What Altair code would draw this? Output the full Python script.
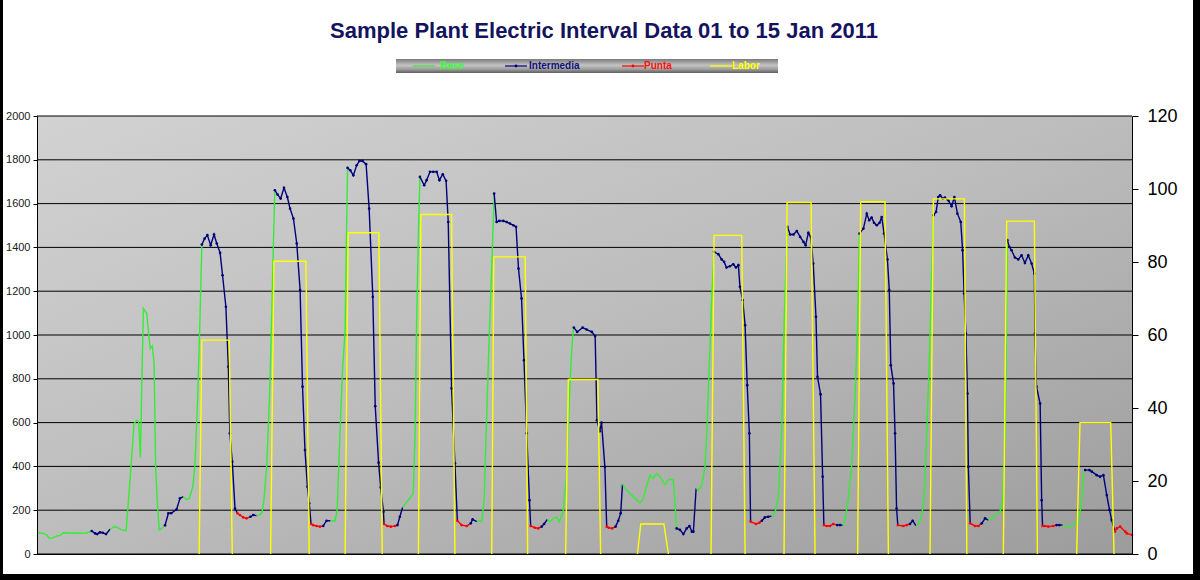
import altair as alt
import pandas as pd

# ---------------- data ----------------
# load curve: hour index and kW
load_hour = [0.0, 2.1, 3.2, 4.1, 5.4, 6.5, 7.6, 8.7, 13.0, 16.3, 18.0, 19.1, 19.8, 20.7, 21.6, 22.7,
             24.0, 25.6, 26.7, 27.8, 29.3, 30.0, 30.9, 31.9, 32.8, 33.4, 34.0, 34.4, 35.0, 36.1, 36.7,
             37.2, 37.9, 38.5, 39.0, 39.7, 40.2, 41.5, 42.1, 43.2, 44.1, 45.9, 47.0, 48.1, 49.0, 50.1,
             51.2, 51.9, 52.8, 53.6, 54.2, 55.1, 56.0, 57.1, 58.2, 59.1, 60.2, 61.0, 62.1, 62.9, 63.4,
             64.2, 65.1, 65.9, 66.7, 67.8, 68.9, 70.2, 71.1, 72.2, 73.1, 74.0, 74.6, 75.5, 76.4, 77.2,
             77.7, 78.2, 79.1, 80.1, 81.2, 82.3, 83.2, 84.3, 85.4, 86.5, 87.3, 88.1, 88.9, 89.5, 90.1,
             90.8, 91.9, 93.0, 94.1, 95.2, 96.5, 98.0, 98.7, 99.6, 100.5, 101.3, 101.8, 102.1, 103.0,
             104.0, 105.1, 106.0, 107.0, 108.2, 109.2, 110.4, 111.2, 112.3, 113.0, 113.9, 114.1, 115.2,
             116.3, 117.7, 118.5, 119.3, 120.2, 121.0, 122.6, 123.7, 124.3, 124.8, 125.4, 125.9, 127.3,
             128.1, 129.2, 130.3, 131.4, 132.3, 133.4, 134.5, 135.2, 136.3, 137.4, 138.2, 139.6, 141.3,
             142.6, 143.2, 144.6, 145.4, 146.2, 147.0, 147.8, 148.7, 149.5, 150.3, 151.1, 152.0, 153.3,
             154.4, 155.5, 156.6, 157.5, 158.3, 159.3, 160.1, 161.0, 161.9, 162.3, 163.7, 164.8, 165.9,
             166.7, 167.8, 168.7, 169.8, 170.9, 171.7, 173.0, 174.1, 175.0, 175.8, 176.3, 176.5, 177.6,
             179.4, 180.7, 182.4, 183.5, 184.1, 185.0, 185.6, 186.7, 187.3, 188.0, 189.1, 190.2, 191.1,
             191.9, 192.5, 193.3, 194.9, 196.6, 198.2, 199.1, 200.4, 201.5, 202.6, 203.7, 204.8, 206.5,
             207.6, 209.2, 210.3, 211.4, 212.5, 213.6, 214.5, 215.3, 215.8, 216.7, 217.4, 218.5, 219.6,
             220.2, 221.0, 221.8, 222.6, 224.0, 225.1, 225.9, 226.7, 227.8, 228.9, 229.8, 230.6, 231.1,
             232.0, 232.8, 233.5, 234.2, 234.6, 236.4, 237.5, 238.3, 239.3, 240.4, 241.5, 242.6, 243.7,
             244.8, 245.7, 246.7, 247.6, 248.7, 249.8, 250.9, 252.0, 252.7, 253.6, 254.4, 255.2, 256.1,
             256.6, 257.6, 258.3, 258.7, 259.6, 260.7, 261.8, 263.1, 264.0, 264.9, 265.6, 266.7, 267.8,
             268.9, 269.7, 270.4, 271.7, 272.8, 273.6, 274.4, 275.2, 276.1, 277.0, 277.7, 278.5, 279.6,
             280.2, 280.7, 281.6, 282.1, 282.6, 283.0, 284.8, 285.9, 287.0, 287.9, 289.0, 289.8, 290.8,
             291.6, 292.5, 293.3, 294.1, 294.7, 295.6, 296.3, 296.9, 297.8, 298.5, 299.6, 300.7, 301.6,
             302.6, 303.7, 304.3, 304.8, 305.4, 305.9, 306.2, 306.8, 308.4, 309.5, 310.6, 311.7, 312.8,
             313.9, 315.0, 316.6, 317.5, 318.3, 318.6, 319.0, 319.7, 320.4, 321.5, 322.6, 323.7, 324.8,
             325.9, 327.0, 327.9, 328.1, 328.6, 329.8, 330.3, 330.6, 331.4, 332.5, 334.1, 335.2, 336.1,
             337.2, 338.0, 339.6, 341.3, 342.4, 343.5, 344.0, 344.6, 346.0, 346.8, 348.4, 349.5, 350.6,
             351.7, 352.6, 353.3, 354.4, 355.0, 356.1, 357.8, 358.3, 360.0]
load_kw = [97, 94, 87, 71, 75, 82, 85, 97, 95, 96, 105, 94, 91, 99, 97, 91,
           113, 125, 119, 110, 106, 231, 398, 596, 611, 604, 441, 748, 1121, 1098, 1007,
           938, 951, 870, 398, 201, 110, 122, 131, 186, 186, 204, 254, 262, 249, 254,
           307, 398, 703, 1083, 1413, 1440, 1456, 1410, 1459, 1418, 1375, 1273, 1129, 855, 551,
           421, 208, 186, 178, 167, 163, 170, 178, 175, 178, 189, 246, 398, 703, 1098,
           1402, 1661, 1641, 1623, 1672, 1630, 1577, 1532, 1418, 1205, 764, 475, 307, 231, 137,
           132, 128, 125, 128, 152, 152, 152, 201, 551, 855, 1022, 1500, 1763, 1752,
           1729, 1775, 1795, 1795, 1780, 1577, 1174, 675, 417, 304, 193, 137, 128,
           125, 128, 132, 170, 213, 228, 254, 277, 551, 1053, 1463, 1722, 1684,
           1707, 1745, 1745, 1745, 1707, 1734, 1704, 1516, 756, 414, 152, 132, 128,
           140, 158, 148, 152, 148, 246, 611, 1007, 1311, 1646, 1516, 1521, 1521,
           1516, 1509, 1501, 1494, 1303, 1167, 885, 551, 246, 128, 120, 117, 125,
           137, 158, 148, 163, 167, 148, 193, 353, 703, 931, 1022, 1034, 1014,
           1034, 1025, 1014, 995, 611, 560, 600, 398, 125, 120, 117, 125, 152,
           186, 319, 300, 277, 254, 234, 246, 307, 360, 345, 368, 353, 315,
           341, 338, 117, 110, 91, 117, 128, 102, 102, 300, 292, 310, 398,
           551, 855, 1159, 1380, 1369, 1345, 1334, 1308, 1314, 1323, 1308, 1319, 1220,
           1159, 1045, 771, 551, 148, 137, 143, 152, 167, 170, 173, 186, 262,
           551, 1083, 1494, 1459, 1459, 1475, 1448, 1425, 1410, 1466, 1448, 1326, 1083,
           809, 730, 353, 132, 128, 128, 137, 132, 132, 132, 152, 246, 398,
           703, 1007, 1463, 1486, 1554, 1524, 1536, 1512, 1501, 1512, 1539, 1463, 1345,
           1205, 862, 779, 551, 208, 132, 128, 132, 137, 152, 128, 137, 170,
           246, 551, 855, 1265, 1547, 1562, 1630, 1638, 1623, 1627, 1615, 1588, 1630,
           1554, 1516, 1387, 1189, 1007, 733, 398, 140, 128, 128, 140, 163, 155,
           163, 178, 193, 246, 551, 855, 1433, 1402, 1387, 1354, 1345, 1364, 1329,
           1364, 1326, 1281, 1007, 764, 687, 246, 128, 128, 125, 128, 132, 132,
           132, 125, 125, 140, 148, 246, 360, 383, 383, 376, 360, 353, 360,
           269, 201, 155, 102, 117, 125, 102, 94, 87]

# tariff periods: hour at which each period starts, and its tariff
tariff_start = [0.0, 18.0, 24.0, 42.1, 48.1, 54.2, 65.9, 70.2, 72.2, 78.2, 90.1, 94.1, 96.5,
                102.1, 114.1, 118.5, 120.2, 125.9, 138.2, 142.6, 144.6, 150.3, 162.3, 165.9,
                167.8, 176.5, 187.3, 190.2, 192.5, 210.3, 216.7, 222.6, 234.6, 238.3, 241.5,
                246.7, 258.7, 263.1, 264.9, 270.4, 283.0, 287.0, 289.0, 294.7, 306.8, 310.6,
                312.8, 319.0, 330.6, 335.2, 337.2, 344.6, 354.4]
tariff_name = ["Base", "Intermedia", "Base", "Intermedia", "Base", "Intermedia", "Punta",
               "Intermedia", "Base", "Intermedia", "Punta", "Intermedia", "Base",
               "Intermedia", "Punta", "Intermedia", "Base", "Intermedia", "Punta", "Intermedia",
               "Base", "Intermedia", "Punta", "Intermedia",
               "Base", "Intermedia", "Punta", "Intermedia", "Base", "Intermedia", "Base",
               "Intermedia", "Punta", "Intermedia", "Base",
               "Intermedia", "Punta", "Intermedia", "Base", "Intermedia", "Punta", "Intermedia",
               "Base", "Intermedia", "Punta", "Intermedia",
               "Base", "Intermedia", "Punta", "Intermedia", "Base", "Intermedia", "Punta"]

# labour (right axis): hour index and head count, four points per shift
labor_hour = [53.3, 54.2, 63.2, 64.2, 76.8, 77.9, 88.4, 89.5, 101.3, 102.3, 112.4, 113.5,
              125.4, 126.2, 136.3, 137.4, 149.5, 150.2, 160.5, 161.3, 173.8, 174.7, 184.4, 185.3,
              197.4, 198.5, 206.1, 207.6, 221.6, 222.6, 231.7, 232.8, 245.6, 246.6, 254.5, 255.8,
              269.8, 270.8, 278.8, 279.9, 293.6, 294.7, 304.9, 305.7, 317.7, 318.8, 327.9, 328.9,
              341.8, 342.9, 353.0, 354.1]
labor_val = [0, 58.6, 58.6, 0, 0, 80.2, 80.2, 0, 0, 88.0, 88.0, 0,
             0, 93.0, 93.0, 0, 0, 81.4, 81.4, 0, 0, 47.8, 47.8, 0,
             0, 8.2, 8.2, 0, 0, 87.3, 87.3, 0, 0, 96.3, 96.3, 0,
             0, 96.5, 96.5, 0, 0, 97.3, 97.3, 0, 0, 91.2, 91.2, 0,
             0, 36.0, 36.0, 0]

series_names = ["Base", "Intermedia", "Punta", "Labor"]
series_colors = ["#33ee33", "#00007a", "#ff0000", "#ffff00"]
legend_text_colors = ["#33ff33", "#10107a", "#ff1010", "#ffff00"]
left_ticks = [0, 200, 400, 600, 800, 1000, 1200, 1400, 1600, 1800, 2000]
right_ticks = [0, 20, 40, 60, 80, 100, 120]
title_text = "Sample Plant Electric Interval Data 01 to 15 Jan 2011"

# ---------------- build tables ----------------
n = min(len(load_hour), len(load_kw))


def tariff_of(h):
    name = tariff_name[0]
    for s, t in zip(tariff_start, tariff_name):
        if h >= s - 1e-9:
            name = t
    return name


tariff = [tariff_of(load_hour[j]) for j in range(n)]
rows = []
seg = 0
start = 0
for i in range(1, n + 1):
    if i == n or tariff[i] != tariff[start]:
        end = min(i, n - 1)
        for j in range(start, end + 1):
            rows.append({"hour": load_hour[j], "kw": load_kw[j],
                         "series": tariff[start], "seg": seg})
        seg += 1
        start = i
load_df = pd.DataFrame(rows)
pts_df = pd.DataFrame({"hour": load_hour[:n], "kw": load_kw[:n], "series": tariff})
pts_df = pts_df[pts_df["series"] != "Base"]

labor_df = pd.DataFrame({"hour": labor_hour, "people": labor_val,
                         "shift": [i // 4 for i in range(len(labor_hour))]})
grid_df = pd.DataFrame({"v": left_ticks})
one = pd.DataFrame({"k": [0]})

# ---------------- layout ----------------
W, H = 1095, 438
PL, PT = 37, 116

xs = alt.Scale(domain=[0, 360], nice=False, zero=False)
yl = alt.Scale(domain=[0, 2000], nice=False)
yr = alt.Scale(domain=[0, 120], nice=False)
cs = alt.Scale(domain=series_names[:3], range=series_colors[:3])

x_axis = alt.Axis(orient="bottom", title=None, labels=False, ticks=False, grid=False,
                  domainColor="black", domainWidth=1, zindex=1)
yl_axis = alt.Axis(orient="left", title=None, values=left_ticks, grid=False, format="d",
                   domainColor="black", domainWidth=1, tickColor="black", tickSize=4,
                   labelFont="Liberation Sans", labelFontSize=11, labelColor="#1a1a1a",
                   labelPadding=3, zindex=1)
yr_axis = alt.Axis(orient="right", title=None, values=right_ticks, grid=False, format="d",
                   domainColor="black", domainWidth=1, tickColor="black", tickSize=6,
                   labelFont="Liberation Sans", labelFontSize=18, labelColor="black",
                   labelPadding=9, zindex=1)

bg = alt.Chart(one).mark_rect(
    color=alt.LinearGradient(
        gradient="linear", x1=0, y1=0, x2=1, y2=1,
        stops=[alt.GradientStop(color="#d2d2d2", offset=0),
               alt.GradientStop(color="#bcbcbc", offset=0.5),
               alt.GradientStop(color="#9c9c9c", offset=1)])
).encode(x=alt.value(0), x2=alt.value(W), y=alt.value(0), y2=alt.value(H))

grid = alt.Chart(grid_df).mark_rule(color="black", strokeWidth=1).encode(
    y=alt.Y("v:Q", scale=yl, axis=yl_axis))

lines = alt.Chart(load_df).mark_line(strokeWidth=1.4).encode(
    x=alt.X("hour:Q", scale=xs, axis=x_axis),
    y=alt.Y("kw:Q", scale=yl, axis=yl_axis),
    color=alt.Color("series:N", scale=cs, legend=None),
    detail="seg:N",
    order="hour:Q",
)
pts = alt.Chart(pts_df).mark_circle(size=7, opacity=1).encode(
    x=alt.X("hour:Q", scale=xs, axis=x_axis),
    y=alt.Y("kw:Q", scale=yl, axis=yl_axis),
    color=alt.Color("series:N", scale=cs, legend=None),
)
left_layer = alt.layer(grid, lines, pts)

labor = alt.Chart(labor_df).mark_line(color=series_colors[3], strokeWidth=1.4).encode(
    x=alt.X("hour:Q", scale=xs, axis=x_axis),
    y=alt.Y("people:Q", scale=yr, axis=yr_axis),
    detail="shift:N",
    order="hour:Q",
)

deco = []
deco.append(alt.Chart(one).mark_text(
    text=title_text, font="Liberation Sans", fontSize=22, fontWeight="bold",
    color="#14145e", align="center", baseline="alphabetic"
).encode(x=alt.value(604 - PL), y=alt.value(38 - PT)))

deco.append(alt.Chart(one).mark_rect(
    color=alt.LinearGradient(
        gradient="linear", x1=0, y1=0, x2=0, y2=1,
        stops=[alt.GradientStop(color="#7a7a7a", offset=0),
               alt.GradientStop(color="#c4c4c4", offset=0.45),
               alt.GradientStop(color="#9a9a9a", offset=0.75),
               alt.GradientStop(color="#5e5e5e", offset=1)])
).encode(x=alt.value(396 - PL), x2=alt.value(778 - PL),
         y=alt.value(59 - PT), y2=alt.value(73 - PT)))

leg_line_x = [413, 505, 622, 710]
leg_text_x = [440, 529, 644, 732]
leg_y = 66 - PT
for k, name in enumerate(series_names):
    deco.append(alt.Chart(one).mark_rule(color=series_colors[k], strokeWidth=1.2).encode(
        x=alt.value(leg_line_x[k] - PL), x2=alt.value(leg_line_x[k] + 22 - PL),
        y=alt.value(leg_y)))
    if name in ("Intermedia", "Punta"):
        deco.append(alt.Chart(one).mark_circle(size=8, opacity=1, color=series_colors[k]).encode(
            x=alt.value(leg_line_x[k] + 11 - PL), y=alt.value(leg_y)))
    deco.append(alt.Chart(one).mark_text(
        text=name, font="Liberation Sans", fontSize=10, fontWeight="bold",
        color=legend_text_colors[k], align="left", baseline="middle"
    ).encode(x=alt.value(leg_text_x[k] - PL), y=alt.value(leg_y)))

# black frame (left, right, bottom)
for (xa, xb, ya, yb) in [(0, 3, 0, 580), (1193, 1200, 0, 580), (0, 1200, 574, 580)]:
    deco.append(alt.Chart(one).mark_rect(color="black").encode(
        x=alt.value(xa - PL), x2=alt.value(xb - PL),
        y=alt.value(ya - PT), y2=alt.value(yb - PT)))

chart = alt.layer(bg, left_layer, labor, *deco).resolve_scale(
    y="independent"
).properties(
    width=W, height=H,
    autosize=alt.AutoSizeParams(type="none"),
    padding={"left": PL, "top": PT, "right": 1200 - PL - W, "bottom": 580 - PT - H},
    background="white",
).configure_view(strokeWidth=0)

chart.save("out.html", embed_options={"renderer": "svg", "actions": False})
